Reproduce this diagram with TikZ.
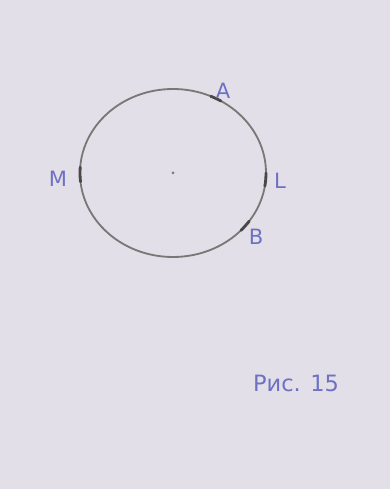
\documentclass[tikz,border=0pt]{standalone}
\usepackage{fontspec}
\setmainfont{DejaVu Sans}
\definecolor{paper}{RGB}{226,223,232}
\definecolor{pen}{RGB}{110,112,196}
\definecolor{pencil}{RGB}{120,120,118}
\tikzset{
  penlabel/.style={text=pen,font=\fontsize{15}{17}\selectfont,inner sep=1pt},
  dotmark/.style={pencil!60!black,line width=2pt}
}
\begin{document}
\begin{tikzpicture}[x=0.25mm,y=0.25mm,line join=round,line cap=round]
\fill[paper] (0,0) rectangle (390,489);
\coordinate (O) at (173,316);
\draw[pencil,line width=1.3pt] (O) ellipse [x radius=93,y radius=84];
\fill[pencil] (O) circle (1.5);
% marked points on the circle
\draw[dotmark] (O) ++(59:93 and 84) arc[start angle=59,end angle=66,x radius=93,y radius=84];
\draw[dotmark] (O) ++(-9:93 and 84) arc[start angle=-9,end angle=0,x radius=93,y radius=84];
\draw[dotmark] (O) ++(-43:93 and 84) arc[start angle=-43,end angle=-35,x radius=93,y radius=84];
\draw[dotmark] (O) ++(176:93 and 84) arc[start angle=176,end angle=186,x radius=93,y radius=84];
\node[penlabel] (lA) at (223,398) {A};
\node[penlabel] (lL) at (280,308) {L};
\node[penlabel] (lB) at (256,252) {B};
\node[penlabel] (lM) at (58,310) {M};
\node[penlabel,font=\fontsize{16}{18}\selectfont] (cap) at (296,106) {Рис. 15};
\end{tikzpicture}
\end{document}
